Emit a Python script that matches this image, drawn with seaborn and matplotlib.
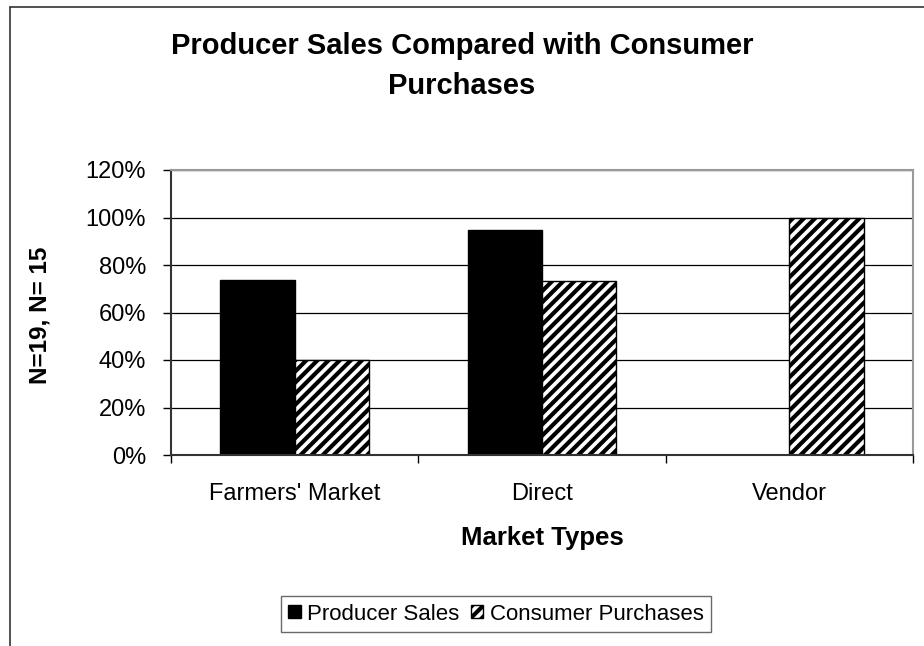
import matplotlib
matplotlib.use("Agg")
import matplotlib.pyplot as plt
import seaborn as sns
import pandas as pd
from matplotlib.lines import Line2D
from matplotlib.patches import Patch

# Data
market_types = ["Farmers' Market", "Direct", "Vendor"]
producer_sales = [73.7, 94.7, 0.0]      # % of producers (N=19)
consumer_purchases = [40.0, 73.3, 100.0]  # % of consumers (N=15)
series_names = ["Producer Sales", "Consumer Purchases"]
y_ticks = [0, 20, 40, 60, 80, 100, 120]

df = pd.DataFrame({
    "Market": market_types * 2,
    "Series": [series_names[0]] * 3 + [series_names[1]] * 3,
    "Value": producer_sales + consumer_purchases,
})

sns.set_theme(style="white")
plt.rcParams["font.family"] = ["Liberation Sans", "DejaVu Sans"]
plt.rcParams["text.color"] = "black"
plt.rcParams["axes.labelcolor"] = "black"
plt.rcParams["xtick.color"] = "black"
plt.rcParams["ytick.color"] = "black"
plt.rcParams["hatch.linewidth"] = 3.0

fig = plt.figure(figsize=(9.24, 6.46), dpi=100)
ax = fig.add_axes([171 / 924, 1 - 455 / 646, (913 - 171) / 924, (455 - 170) / 646])

sns.barplot(data=df, x="Market", y="Value", hue="Series", order=market_types,
            hue_order=series_names, palette=["black", "white"], width=0.6,
            edgecolor="black", linewidth=1.0, saturation=1, legend=False, ax=ax)

for bar in ax.containers[1]:
    bar.set_hatch("///")
    bar.set_edgecolor("black")

ax.set_ylim(0, 120)
ax.set_xlim(-0.5, 2.5)
ax.set_yticks(y_ticks)
ax.set_yticklabels([f"{t}%" for t in y_ticks], fontsize=17)
ax.yaxis.grid(True, color="black", linewidth=0.9)
ax.set_axisbelow(True)

# category boundary ticks on the x axis
ax.set_xticks([-0.5, 0.5, 1.5, 2.5], minor=False)
ax.set_xticklabels([])
ax.set_xticks([0, 1, 2], minor=True)
ax.set_xticklabels(market_types, minor=True, fontsize=17)
ax.tick_params(axis="x", which="minor", length=0, pad=20)
ax.tick_params(axis="x", which="major", direction="out", length=6, width=1, color="black", bottom=True)
ax.tick_params(axis="y", direction="out", length=6, width=1, color="black", left=True, pad=12)

for side in ["top", "right"]:
    ax.spines[side].set_color("#999999")
    ax.spines[side].set_linewidth(1.5)
for side in ["left", "bottom"]:
    ax.spines[side].set_color("#333333")
    ax.spines[side].set_linewidth(1.5)

ax.set_xlabel("")
ax.set_ylabel("")

# chart frame (left and top edges)
fig.add_artist(Line2D([10 / 924, 10 / 924], [0, 1 - 7 / 646], transform=fig.transFigure,
                      color="#333333", linewidth=1.2))
fig.add_artist(Line2D([10 / 924, 1], [1 - 7 / 646, 1 - 7 / 646], transform=fig.transFigure,
                      color="#333333", linewidth=1.2))

fig.text(0.5, 1 - 46 / 646, "Producer Sales Compared with Consumer", ha="center", va="center",
         fontsize=21, fontweight="bold")
fig.text(0.5, 1 - 86 / 646, "Purchases", ha="center", va="center",
         fontsize=21, fontweight="bold")
fig.text(40 / 924, 1 - 315 / 646, "N=19, N= 15", rotation=90, ha="center", va="center",
         fontsize=17.5, fontweight="bold")
fig.text(542 / 924, 1 - 538 / 646, "Market Types", ha="center", va="center",
         fontsize=18.5, fontweight="bold")

handles = [Patch(facecolor="black", edgecolor="black"),
           Patch(facecolor="white", edgecolor="black", hatch="///")]
leg = fig.legend(handles, series_names, loc="center", bbox_to_anchor=(496 / 924, 1 - 614 / 646),
                 ncol=2, fontsize=16, frameon=True, fancybox=False, handlelength=0.55,
                 handleheight=0.55, handletextpad=0.3, columnspacing=0.5, borderpad=0.35,
                 borderaxespad=0)
leg.get_frame().set_edgecolor("#444444")
leg.get_frame().set_linewidth(1.0)

fig.savefig("out.png", dpi=100, facecolor="white")
